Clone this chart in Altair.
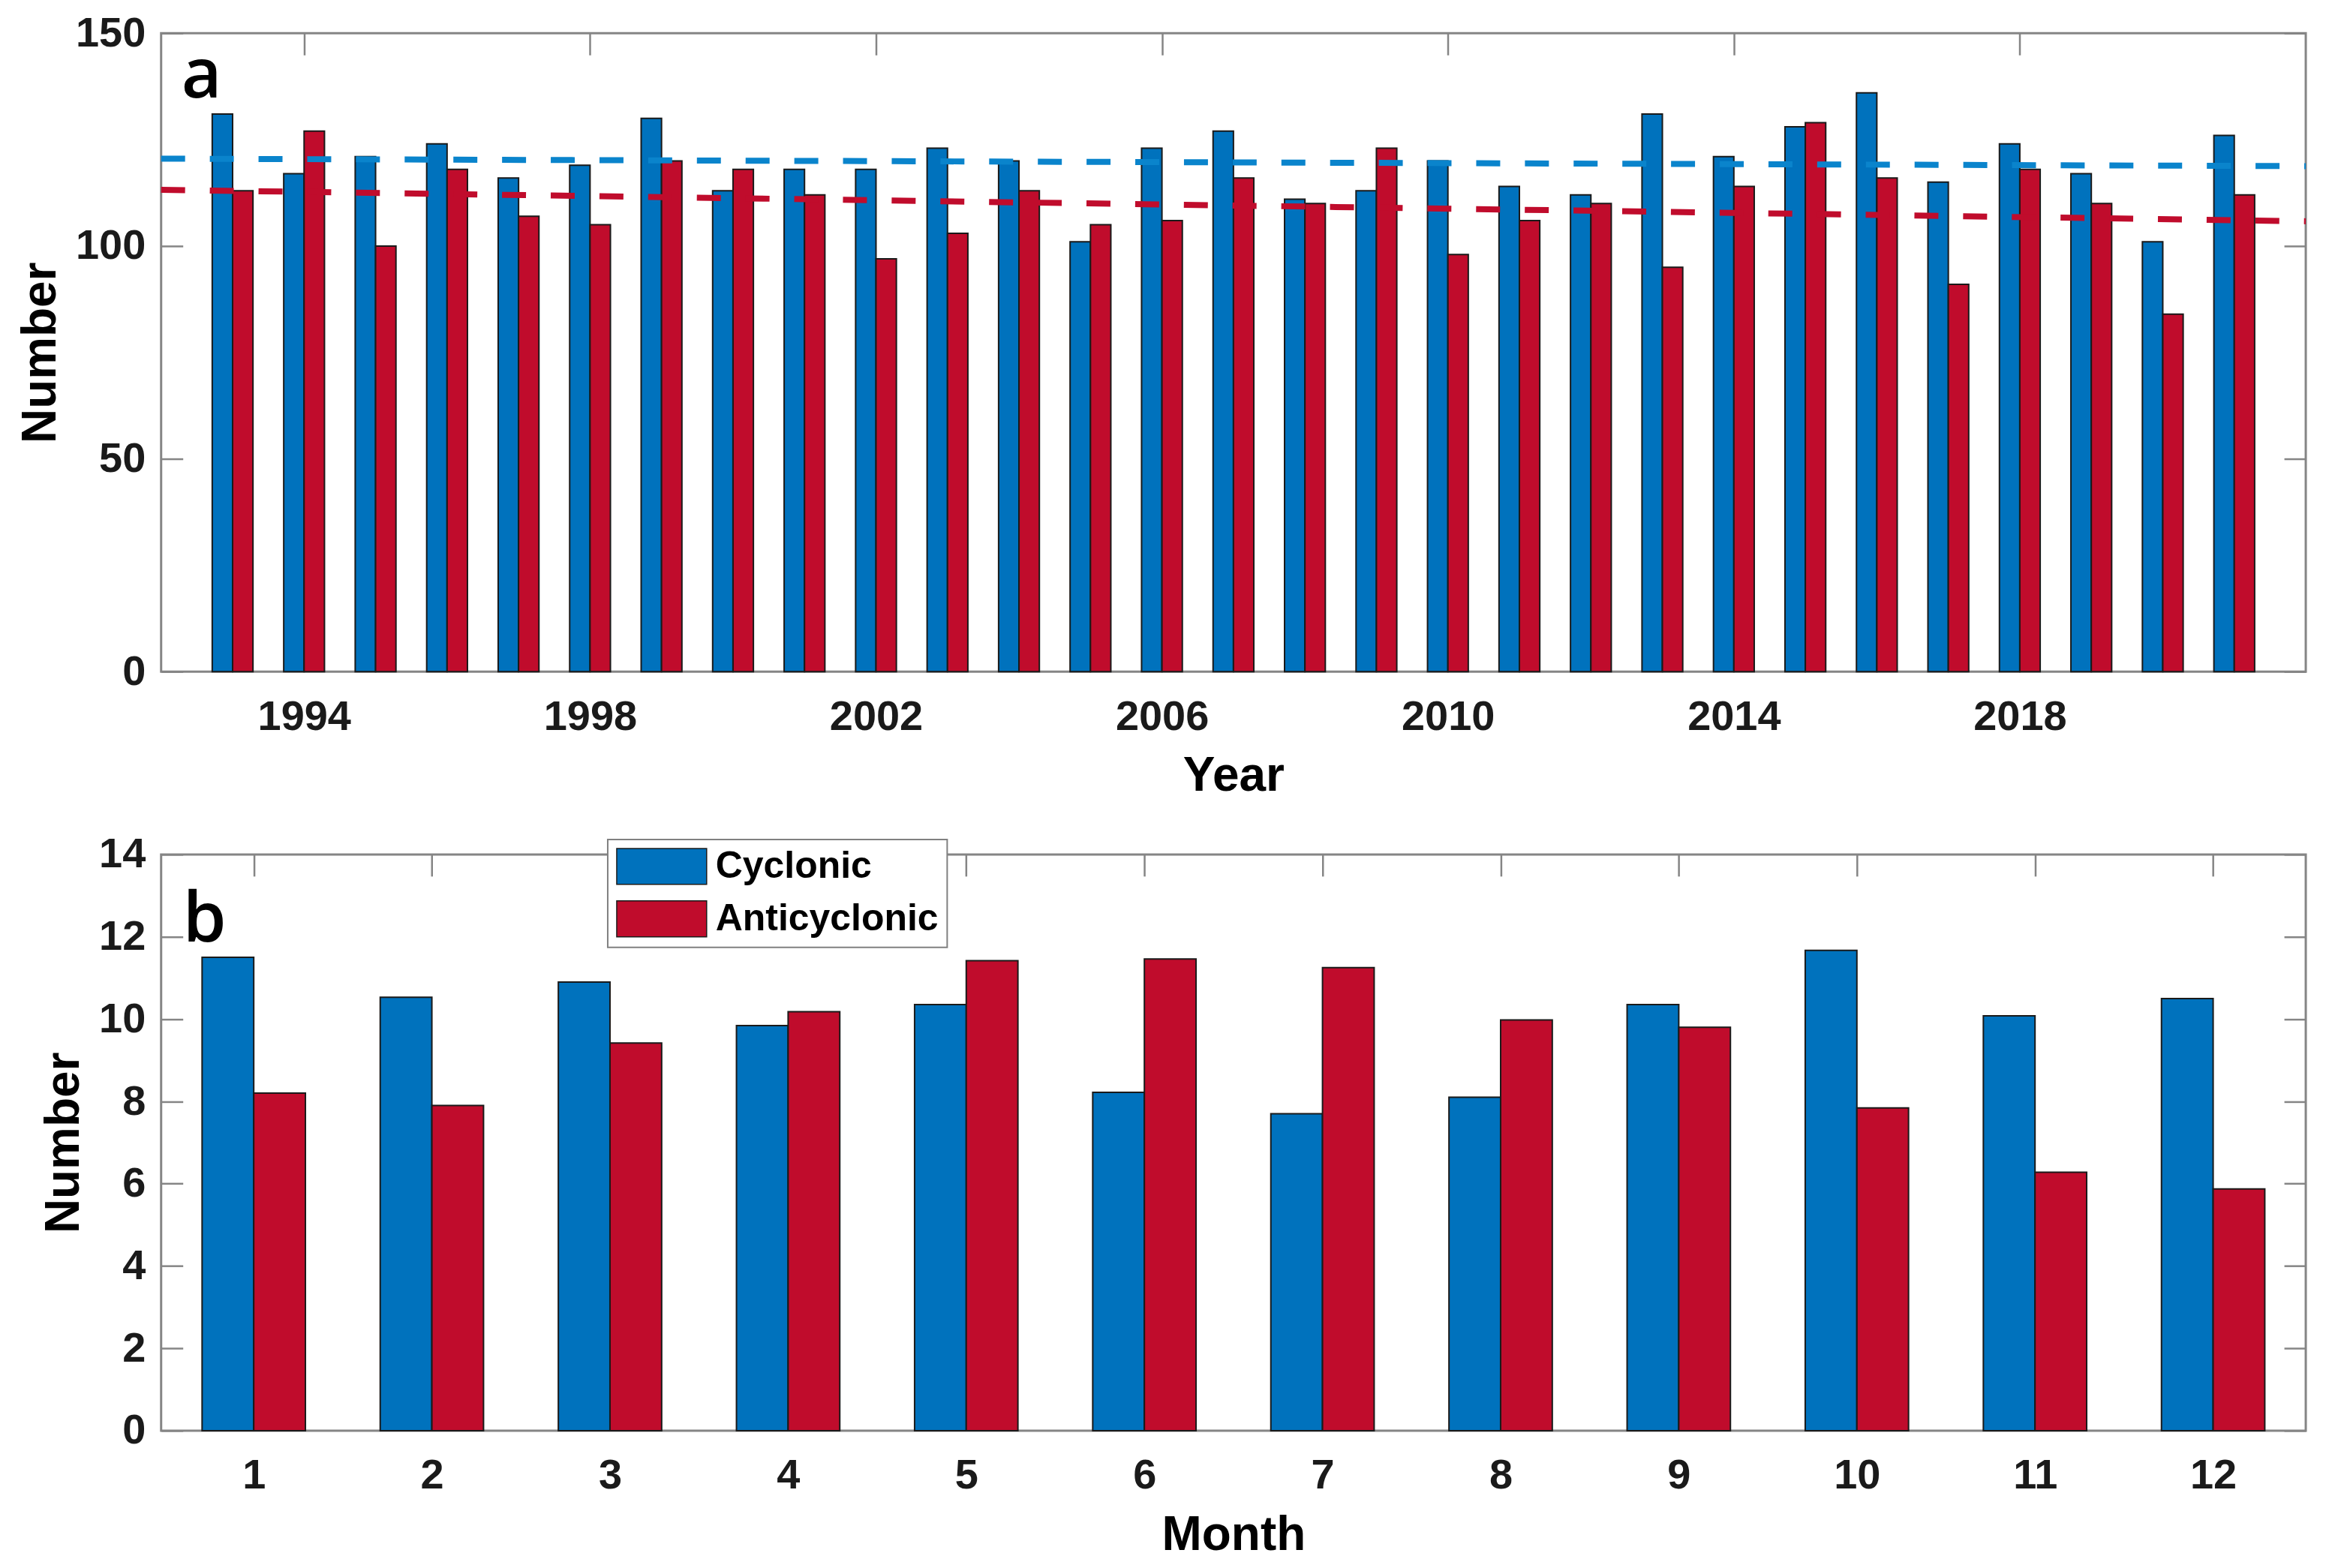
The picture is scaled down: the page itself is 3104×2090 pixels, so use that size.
import altair as alt
import pandas as pd

# ---------------- data ----------------
types = ["Cyclonic", "Anticyclonic"]

years = list(range(1993, 2022))
cyclonic_year = [131, 117, 121, 124, 116, 119, 130, 113, 118, 118, 123, 120, 101, 123, 127,
                 111, 113, 120, 114, 112, 131, 121, 128, 136, 115, 124, 117, 101, 126]
anticyclonic_year = [113, 127, 100, 118, 107, 105, 120, 118, 112, 97, 103, 113, 105, 106, 116,
                     110, 123, 98, 106, 110, 95, 114, 129, 116, 91, 118, 110, 84, 112]

months = list(range(1, 13))
cyclonic_month = [11.50, 10.53, 10.90, 9.84, 10.35, 8.22, 7.70, 8.10, 10.35, 11.67, 10.08, 10.50]
anticyclonic_month = [8.20, 7.90, 9.42, 10.18, 11.42, 11.46, 11.25, 9.98, 9.80, 7.84, 6.28, 5.87]

year_ticks = [1994, 1998, 2002, 2006, 2010, 2014, 2018]
year_value_ticks = [0, 50, 100, 150]
month_value_ticks = [0, 2, 4, 6, 8, 10, 12, 14]

# ---------------- style ----------------
FONT = "Liberation Sans"
GRAY = "#858585"
BAR_COLORS = ["#0072BD", "#C00C2C"]
TREND_COLORS = ["#0A84CC", "#C00C2C"]
W = 2862
H_A = 852
H_B = 769
BAR_W_A = 0.285
BAR_W_B = 0.29

df_year = pd.DataFrame({
    "year": years * 2,
    "type": ["Cyclonic"] * len(years) + ["Anticyclonic"] * len(years),
    "value": cyclonic_year + anticyclonic_year,
})
df_month = pd.DataFrame({
    "month": months * 2,
    "type": ["Cyclonic"] * len(months) + ["Anticyclonic"] * len(months),
    "value": cyclonic_month + anticyclonic_month,
})

tick_axis = dict(labels=False, domain=False, grid=False, ticks=True, tickSize=29,
                 tickWidth=2.5, tickColor=GRAY, title=None)


def inward_ticks(data, xfield, yfield, xscale, yscale, xvals, yvals, width, height):
    t1 = alt.Chart(data).mark_point(opacity=0).encode(
        x=alt.X(f"{xfield}:Q", scale=xscale,
                axis=alt.Axis(orient="top", offset=-height, values=xvals, **tick_axis)),
        y=alt.Y(f"{yfield}:Q", scale=yscale,
                axis=alt.Axis(orient="right", offset=-width, values=yvals, **tick_axis)),
    )
    t2 = alt.Chart(data).mark_point(opacity=0).encode(
        x=alt.X(f"{xfield}:Q", scale=xscale,
                axis=alt.Axis(orient="bottom", offset=-height, values=xvals, **tick_axis)),
        y=alt.Y(f"{yfield}:Q", scale=yscale,
                axis=alt.Axis(orient="left", offset=-width, values=yvals, **tick_axis)),
    )
    return t1, t2


def bars_layer(data, xfield, bw, xscale, yscale, xvals, yvals, xtitle, legend):
    return alt.Chart(data).transform_calculate(
        x0=f"datum.{xfield} + (datum.type == 'Cyclonic' ? {-bw} : 0)",
        x1=f"datum.{xfield} + (datum.type == 'Cyclonic' ? 0 : {bw})",
    ).mark_bar(stroke="#1a1a1a", strokeWidth=2).encode(
        x=alt.X("x0:Q", scale=xscale,
                axis=alt.Axis(orient="bottom", values=xvals, format="d", ticks=False, tickSize=0,
                              domain=False, grid=False, labelPadding=33, labelFlush=False,
                              title=xtitle, titlePadding=20)),
        x2="x1:Q",
        y=alt.Y("value:Q", scale=yscale,
                axis=alt.Axis(orient="left", values=yvals, format="d", ticks=False, tickSize=0,
                              domain=False, grid=False, labelPadding=21, labelFlush=False,
                              title="Number", titlePadding=14)),
        y2=alt.datum(0),
        color=alt.Color("type:N", scale=alt.Scale(domain=types, range=BAR_COLORS), legend=legend),
    )


def panel_label(text, x, y):
    return alt.Chart(pd.DataFrame({"t": [text]})).mark_text(
        font="Open Sans", fontSize=93, fontWeight=600, align="left",
        baseline="alphabetic", color="black",
    ).encode(text="t:N", x=alt.value(x), y=alt.value(y))


# ---------------- panel a ----------------
xs_a = alt.Scale(domain=[1992, 2022], nice=False, zero=False)
ys_a = alt.Scale(domain=[0, 150], nice=False)

bars_a = bars_layer(df_year, "year", BAR_W_A, xs_a, ys_a, year_ticks, year_value_ticks, "Year", None)

trend_a = alt.Chart(df_year).transform_regression(
    "year", "value", groupby=["type"], extent=[1992, 2022]
).mark_line(strokeDash=[32, 33], strokeWidth=8).encode(
    x=alt.X("year:Q", scale=xs_a, axis=None),
    y=alt.Y("value:Q", scale=ys_a, axis=None),
    stroke=alt.Stroke("type:N", scale=alt.Scale(domain=types, range=TREND_COLORS), legend=None),
)

ta1, ta2 = inward_ticks(df_year, "year", "value", xs_a, ys_a, year_ticks, year_value_ticks, W, H_A)

panel_a = alt.layer(bars_a, trend_a, panel_label("a", 27, 86), ta1, ta2).resolve_axis(
    x="independent", y="independent"
).properties(width=W, height=H_A)

# ---------------- panel b ----------------
xs_b = alt.Scale(domain=[0.48, 12.52], nice=False, zero=False)
ys_b = alt.Scale(domain=[0, 14], nice=False)

legend_b = alt.Legend(
    orient="none", legendX=596, legendY=-20, title=None, direction="vertical",
    symbolType="M-1,-1L4,-1L4,1L-1,1Z", symbolSize=2304,
    symbolStrokeWidth=1.5, symbolStrokeColor="#1a1a1a", symbolOpacity=1,
    labelFont=FONT, labelFontSize=50, labelFontWeight="bold", labelColor="black",
    labelOffset=83, labelLimit=800, rowPadding=16, padding=11,
    strokeColor="#808080", fillColor="white",
)

bars_b = bars_layer(df_month, "month", BAR_W_B, xs_b, ys_b, months, month_value_ticks, "Month", legend_b)

tb1, tb2 = inward_ticks(df_month, "month", "value", xs_b, ys_b, months, month_value_ticks, W, H_B)

panel_b = alt.layer(bars_b, panel_label("b", 29, 116), tb1, tb2).resolve_axis(
    x="independent", y="independent"
).properties(width=W, height=H_B)

# ---------------- compose ----------------
chart = alt.vconcat(panel_a, panel_b, spacing=40).resolve_scale(
    color="independent"
).configure_view(
    stroke=GRAY, strokeWidth=3
).configure_axis(
    labelFont=FONT, labelFontSize=56, labelFontWeight="bold", labelColor="#1a1a1a",
    titleFont=FONT, titleFontSize=64, titleFontWeight="bold", titleColor="black",
).configure_legend(
    strokeWidth=2
).properties(
    padding={"left": 13, "top": 5, "right": 5, "bottom": 5},
    background="white",
)

chart.save("out.html", embed_options={"renderer": "svg", "actions": False})
